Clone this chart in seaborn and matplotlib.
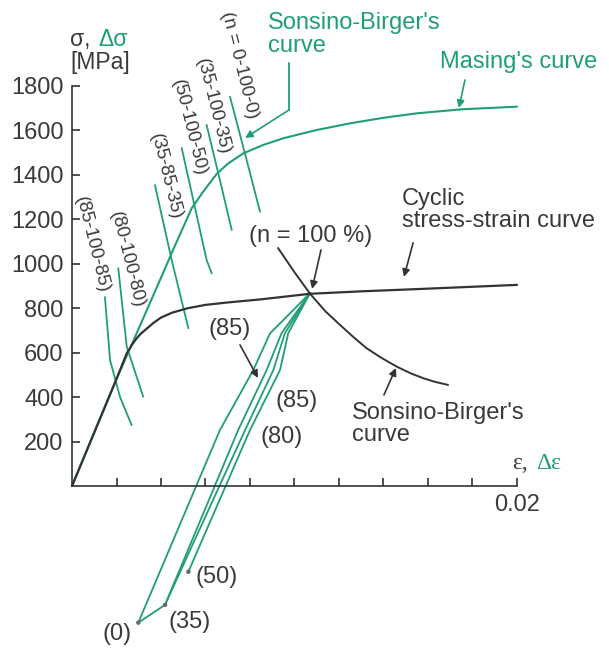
import matplotlib
matplotlib.use("Agg")
import matplotlib.pyplot as plt
import seaborn as sns

sns.set_style("white")
plt.rcParams["font.family"] = ["Liberation Sans", "DejaVu Sans"]

GREEN = "#1f9e78"
DARK = "#333333"
TEXT = "#3a3a3a"

# Cyclic stress-strain curve (strain, stress in MPa)
cyclic_eps = [0, 0.00186, 0.00246, 0.00270, 0.00290, 0.00310, 0.00330, 0.00365, 0.00400,
              0.00450, 0.00520, 0.00600, 0.00700, 0.00850, 0.01070, 0.01300, 0.01550,
              0.02000]
cyclic_sig = [0, 447, 597, 636, 664, 686, 703, 733, 758, 780, 800, 815, 826, 840, 865,
              876, 886, 905]

# Masing's curve (strain range, stress range)
masing_eps = [0, 0.00184, 0.00291, 0.00410, 0.00454, 0.00500, 0.00538, 0.00590, 0.00650,
              0.00700, 0.00770, 0.00860, 0.00950, 0.01100, 0.01250, 0.01400, 0.01550,
              0.01750, 0.02000]
masing_sig = [0, 445, 688, 960, 1062, 1165, 1250, 1325, 1404, 1450, 1497, 1535, 1565,
              1602, 1632, 1657, 1677, 1695, 1707]

# Sonsino-Birger's curve through the n = 100 % point
sb_eps = [0.00926, 0.0100, 0.0107, 0.0114, 0.0121, 0.01265, 0.01324, 0.0139, 0.0146,
          0.0152, 0.01579, 0.0163, 0.0169]
sb_sig = [1071, 962, 865, 785, 720, 670, 620, 577, 537, 508, 485, 469, 455]

# Sonsino-Birger segments for the individual load sequences
seg_labels = ["(n = 0-100-0)", "(35-100-35)", "(50-100-50)", "(35-85-35)",
              "(80-100-80)", "(85-100-85)"]
seg_eps = [[0.00710, 0.00778, 0.00845],
           [0.00605, 0.00661, 0.00718],
           [0.00493, 0.00605, 0.00628],
           [0.00373, 0.00448, 0.00523],
           [0.00208, 0.00246, 0.00320],
           [0.00148, 0.00171, 0.00216, 0.00268]]
seg_sig = [[1752, 1494, 1234],
           [1625, 1392, 1152],
           [1521, 1017, 957],
           [1354, 1017, 710],
           [980, 627, 402],
           [850, 567, 400, 274]]
seg_label_eps = [0.00755, 0.00634, 0.00526, 0.00422, 0.00247, 0.00090]
seg_label_sig = [1894, 1705, 1611, 1390, 1017, 1084]

# Hysteresis branches running up to the n = 100 % point
branch_eps = [[0.00298, 0.00665, 0.00815, 0.00890, 0.00965, 0.0107],
              [0.00298, 0.00418],
              [0.00418, 0.00747, 0.00875, 0.00942, 0.0107],
              [0.00418, 0.00778, 0.00905, 0.00957, 0.0107],
              [0.00523, 0.00800, 0.00935, 0.00972, 0.0107]]
branch_sig = [[-615, 252, 522, 687, 762, 868],
              [-615, -535],
              [-535, 252, 522, 688, 868],
              [-535, 252, 522, 688, 868],
              [-386, 252, 522, 688, 868]]

# Starting points of the branches
start_labels = ["(0)", "(35)", "(50)"]
start_eps = [0.00298, 0.00418, 0.00523]
start_sig = [-615, -535, -386]

y_ticks = [200, 400, 600, 800, 1000, 1200, 1400, 1600, 1800]
x_ticks = [0.002, 0.004, 0.006, 0.008, 0.010, 0.012, 0.014, 0.016, 0.018, 0.020]
x_tick_labels = ["", "", "", "", "", "", "", "", "", "0.02"]

fig = plt.figure(figsize=(6.09, 6.48), dpi=100)
ax = fig.add_axes([0, 0, 1, 1])
ax.set_xlim(-0.003236, 0.024135)
ax.set_ylim(-729, 2187)

# green curves first so the black cyclic curve lies on top
sns.lineplot(x=masing_eps, y=masing_sig, sort=False, estimator=None,
             color=GREEN, linewidth=1.5, ax=ax)
for ex, sy in zip(seg_eps, seg_sig):
    sns.lineplot(x=ex, y=sy, sort=False, estimator=None,
                 color=GREEN, linewidth=1.3, ax=ax)
for ex, sy in zip(branch_eps, branch_sig):
    sns.lineplot(x=ex, y=sy, sort=False, estimator=None,
                 color=GREEN, linewidth=1.3, ax=ax)

sns.lineplot(x=cyclic_eps, y=cyclic_sig, sort=False, estimator=None,
             color=DARK, linewidth=1.6, ax=ax)
sns.lineplot(x=sb_eps, y=sb_sig, sort=False, estimator=None,
             color=DARK, linewidth=1.4, ax=ax)
sns.scatterplot(x=start_eps, y=start_sig, color="#666666", s=10,
                edgecolor="none", ax=ax, zorder=5)

# axes
for s in ["top", "right"]:
    ax.spines[s].set_visible(False)
for s in ["left", "bottom"]:
    ax.spines[s].set_position(("data", 0))
    ax.spines[s].set_color(DARK)
    ax.spines[s].set_linewidth(1.2)
ax.spines["left"].set_bounds(0, 1800)
ax.spines["bottom"].set_bounds(0, 0.02)
ax.set_yticks(y_ticks)
ax.set_yticklabels([str(v) for v in y_ticks])
ax.set_xticks(x_ticks)
ax.set_xticklabels(x_tick_labels)
ax.tick_params(left=True, bottom=True, direction="in", length=6, width=1.2,
               colors=DARK, labelsize=17, labelcolor=TEXT)
ax.tick_params(axis="y", pad=6)
ax.tick_params(axis="x", pad=6)

# axis titles
ax.text(-0.00009, 2011, "σ,", fontsize=16.5, color=TEXT, ha="left", va="center")
ax.text(0.00117, 2011, "Δσ", fontsize=16.5, color=GREEN, ha="left", va="center")
ax.text(-0.00009, 1908, "[MPa]", fontsize=16.5, color=TEXT, ha="left", va="center")
ax.text(0.01978, 103, "ε,", fontsize=17, color=TEXT, ha="left", va="center",
        family=["Liberation Serif", "DejaVu Serif"])
ax.text(0.02088, 103, "Δε", fontsize=17, color=GREEN, ha="left", va="center",
        family=["Liberation Serif", "DejaVu Serif"])

# rotated labels of the load sequences
for lab, ex, sy in zip(seg_labels, seg_label_eps, seg_label_sig):
    ax.text(ex, sy, lab, fontsize=13.5, color=TEXT, rotation=-76,
            rotation_mode="anchor", ha="center", va="center")

# curve names
ax.text(0.00881, 2030, "Sonsino-Birger's\ncurve", fontsize=17, color=GREEN,
        ha="left", va="center", linespacing=1.05)
ax.text(0.01654, 1908, "Masing's curve", fontsize=17, color=GREEN,
        ha="left", va="center")
ax.text(0.01483, 1242, "Cyclic\nstress-strain curve", fontsize=17, color=TEXT,
        ha="left", va="center", linespacing=1.05)
ax.text(0.01258, 279, "Sonsino-Birger's\ncurve", fontsize=17, color=TEXT,
        ha="left", va="center", linespacing=1.05)
ax.text(0.01074, 1125, "(n = 100 %)", fontsize=17, color=TEXT,
        ha="center", va="center")

# branch labels
for lab, ex, sy in zip(start_labels, [0.00202, 0.00530, 0.00652], [-666, -612, -410]):
    ax.text(ex, sy, lab, fontsize=17, color=TEXT, ha="center", va="center")
ax.text(0.00710, 707, "(85)", fontsize=17, color=TEXT, ha="center", va="center")
ax.text(0.01011, 383, "(85)", fontsize=17, color=TEXT, ha="center", va="center")
ax.text(0.00944, 221, "(80)", fontsize=17, color=TEXT, ha="center", va="center")

# leader arrows
def arrow(x0, y0, x1, y1, color):
    ax.annotate("", xy=(x1, y1), xytext=(x0, y0),
                arrowprops=dict(arrowstyle="-|>", color=color, lw=1.2,
                                mutation_scale=11, shrinkA=0, shrinkB=0))

ax.plot([0.00975, 0.00975], [1903, 1692], color=GREEN, lw=1.3)
arrow(0.00975, 1692, 0.00778, 1566, GREEN)
arrow(0.01766, 1827, 0.01739, 1701, GREEN)
arrow(0.01533, 1094, 0.01492, 941, DARK)
arrow(0.01119, 1062, 0.01079, 887, DARK)
arrow(0.01402, 410, 0.01456, 531, DARK)
arrow(0.00755, 635, 0.00836, 486, DARK)

fig.savefig("out.png", dpi=100)
